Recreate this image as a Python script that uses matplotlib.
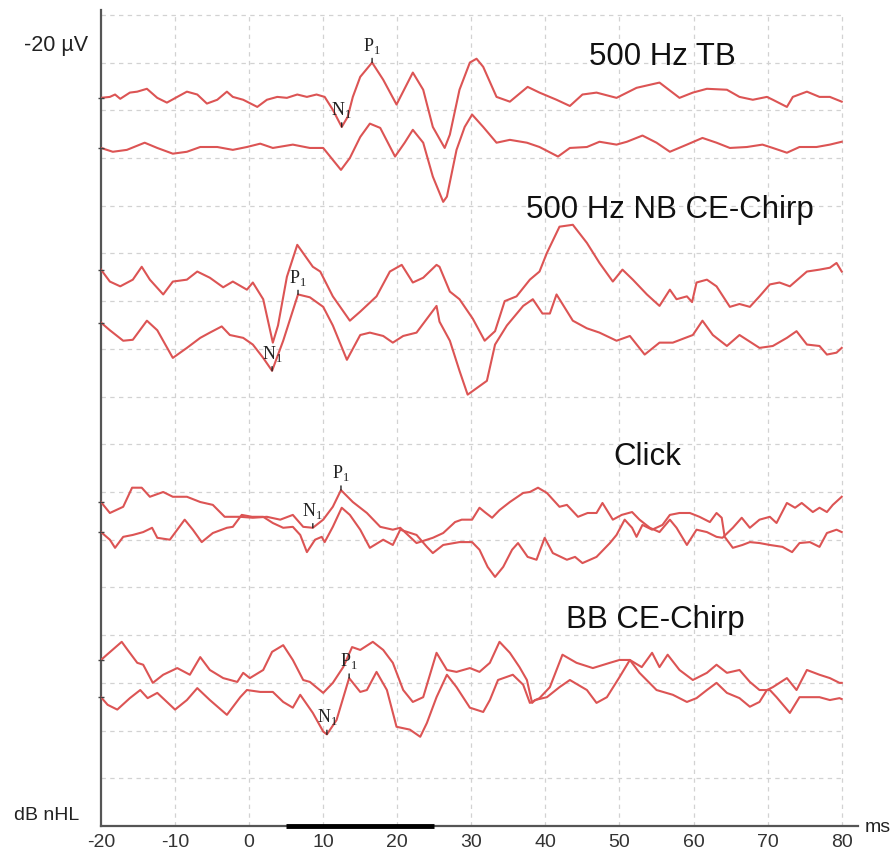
import matplotlib
matplotlib.use("Agg")
import matplotlib.pyplot as plt

# ---------------- data (x in ms, y in grid divisions) ----------------
tb_upper_t = [-20.0, -18.8, -18.1, -17.4, -16.1, -15.1, -13.8, -12.4, -11.1, -9.7, -8.4, -7.0, -5.7, -4.3, -3.0,
              -2.2, -0.8, 1.1, 2.4, 3.8, 5.1, 6.5, 7.8, 9.1, 10.2, 11.3, 12.5, 13.3, 14.0, 15.0, 16.6, 18.1,
              19.9, 22.1, 23.5, 24.8, 26.4, 27.1, 28.4, 29.8, 30.7, 31.6, 33.4, 35.2, 37.6, 39.2, 41.5, 43.3,
              45.0, 46.9, 49.6, 52.3, 55.4, 58.1, 59.9, 61.8, 64.5, 66.2, 68.0, 69.9, 70.7, 72.6, 73.4, 75.3,
              77.0, 78.4, 80.0]
tb_upper_v = [15.26, 15.28, 15.33, 15.24, 15.37, 15.39, 15.45, 15.26, 15.16, 15.28, 15.39, 15.33, 15.14, 15.22,
              15.39, 15.28, 15.22, 15.07, 15.22, 15.28, 15.26, 15.33, 15.28, 15.33, 15.28, 15.01, 14.65, 14.86,
              15.28, 15.70, 16.00, 15.64, 15.12, 15.79, 15.43, 14.65, 14.21, 14.49, 15.43, 16.00, 16.08, 15.91,
              15.28, 15.18, 15.49, 15.37, 15.22, 15.09, 15.33, 15.37, 15.26, 15.47, 15.58, 15.26, 15.37, 15.45,
              15.43, 15.28, 15.22, 15.28, 15.22, 15.07, 15.28, 15.39, 15.28, 15.28, 15.18]

tb_lower_t = [-20.0, -18.4, -16.5, -14.1, -12.4, -10.3, -8.4, -6.6, -4.3, -2.2, -0.3, 1.5, 3.2, 5.9, 8.2, 10.0,
              11.3, 12.4, 13.6, 15.0, 16.3, 17.7, 19.7, 21.0, 22.1, 23.5, 24.8, 26.2, 26.7, 28.0, 29.1, 30.1,
              31.6, 33.4, 35.2, 37.5, 39.2, 41.7, 43.3, 45.6, 47.3, 49.6, 51.0, 53.1, 55.0, 56.8, 59.1, 61.2,
              63.1, 64.9, 67.2, 69.3, 70.7, 72.6, 74.3, 76.6, 78.4, 80.0]
tb_lower_v = [14.21, 14.13, 14.17, 14.32, 14.21, 14.09, 14.13, 14.23, 14.23, 14.17, 14.23, 14.30, 14.21, 14.28,
              14.21, 14.21, 13.96, 13.75, 14.00, 14.44, 14.72, 14.63, 14.03, 14.32, 14.59, 14.32, 13.61, 13.08,
              13.19, 14.17, 14.65, 14.91, 14.65, 14.32, 14.38, 14.32, 14.23, 14.03, 14.21, 14.23, 14.34, 14.28,
              14.34, 14.47, 14.32, 14.13, 14.28, 14.42, 14.32, 14.21, 14.23, 14.28, 14.21, 14.11, 14.23, 14.23,
              14.28, 14.34]

nb_upper_t = [-20.0, -18.8, -17.4, -15.7, -14.5, -13.4, -11.6, -10.3, -8.4, -7.0, -5.3, -3.5, -2.2, -0.3, 0.5,
              1.9, 3.2, 3.9, 5.1, 6.5, 8.6, 9.6, 11.3, 13.6, 15.0, 17.2, 19.0, 20.6, 22.1, 23.5, 25.3, 25.7,
              27.1, 28.4, 30.2, 31.8, 33.2, 34.5, 36.1, 37.9, 39.2, 40.2, 41.9, 43.7, 45.6, 47.3, 49.1, 50.4,
              51.8, 53.7, 55.4, 56.8, 57.7, 59.1, 59.8, 60.4, 61.8, 63.1, 64.9, 66.2, 67.6, 68.9, 70.3, 71.6,
              73.0, 75.3, 77.0, 78.4, 79.3, 80.0]
nb_upper_v = [11.66, 11.41, 11.31, 11.45, 11.72, 11.45, 11.14, 11.41, 11.45, 11.62, 11.49, 11.29, 11.41, 11.24,
              11.39, 11.04, 10.13, 10.49, 11.51, 12.18, 11.72, 11.62, 11.10, 10.59, 10.78, 11.10, 11.62, 11.76,
              11.39, 11.49, 11.76, 11.72, 11.20, 11.04, 10.63, 10.17, 10.37, 11.00, 11.10, 11.45, 11.62, 12.01,
              12.56, 12.60, 12.22, 11.80, 11.41, 11.66, 11.45, 11.14, 10.90, 11.24, 11.04, 11.10, 10.98, 11.39,
              11.45, 11.31, 10.88, 10.94, 10.88, 11.10, 11.35, 11.39, 11.31, 11.62, 11.66, 11.70, 11.80, 11.62]

nb_lower_t = [-20.0, -18.8, -17.0, -15.7, -13.8, -12.4, -10.3, -8.4, -6.6, -5.3, -3.7, -2.6, -0.8, 0.5, 1.9,
              3.1, 4.6, 6.6, 8.2, 10.0, 11.3, 13.2, 15.0, 16.3, 18.1, 19.4, 20.8, 22.6, 25.3, 25.7, 27.1, 28.4,
              29.5, 32.1, 33.2, 34.8, 37.0, 38.3, 39.6, 40.6, 41.5, 43.7, 45.6, 47.3, 49.6, 51.4, 53.4, 55.4,
              57.2, 59.9, 61.2, 62.6, 64.5, 66.2, 68.9, 70.7, 72.6, 73.9, 75.3, 77.0, 78.0, 79.3, 80.0]
nb_lower_v = [10.55, 10.39, 10.17, 10.19, 10.59, 10.39, 9.81, 10.02, 10.23, 10.34, 10.47, 10.29, 10.23, 10.09,
              9.81, 9.54, 10.17, 11.14, 11.08, 10.88, 10.49, 9.77, 10.29, 10.34, 10.27, 10.13, 10.27, 10.34,
              10.90, 10.57, 10.17, 9.54, 9.04, 9.33, 10.09, 10.49, 10.90, 11.04, 10.74, 10.74, 11.14, 10.59,
              10.43, 10.34, 10.17, 10.27, 9.88, 10.13, 10.13, 10.29, 10.59, 10.29, 10.06, 10.29, 10.02, 10.06,
              10.23, 10.37, 10.09, 10.06, 9.88, 9.92, 10.02]

click_a_t = [-20.0, -18.8, -17.0, -15.8, -14.5, -13.4, -11.6, -10.3, -8.4, -6.6, -4.9, -3.3, -1.2, 0.5, 2.4,
             4.2, 5.9, 7.3, 8.6, 10.0, 11.3, 12.4, 14.0, 15.9, 17.7, 19.4, 20.4, 22.6, 24.8, 26.2, 27.8, 28.7,
             30.1, 31.1, 31.8, 32.8, 33.8, 35.2, 37.0, 37.9, 39.0, 40.2, 41.9, 42.9, 44.4, 45.7, 46.9, 47.7,
             49.1, 50.3, 51.7, 52.7, 54.1, 55.4, 56.8, 57.7, 59.1, 60.4, 61.8, 63.1, 63.9, 65.3, 66.5, 67.6,
             68.9, 70.3, 71.2, 72.6, 73.7, 74.6, 76.1, 77.0, 78.0, 78.8, 80.0]
click_a_v = [6.79, 6.56, 6.69, 7.09, 7.09, 6.90, 7.00, 6.90, 6.90, 6.79, 6.73, 6.48, 6.48, 6.46, 6.48, 6.42,
             6.52, 6.27, 6.25, 6.42, 6.69, 7.04, 6.79, 6.56, 6.27, 6.21, 6.25, 5.93, 6.04, 6.14, 6.37, 6.42,
             6.42, 6.67, 6.58, 6.46, 6.62, 6.79, 6.98, 7.00, 7.09, 6.98, 6.69, 6.73, 6.48, 6.56, 6.56, 6.77,
             6.42, 6.52, 6.58, 6.42, 6.25, 6.16, 6.42, 6.25, 5.89, 6.21, 6.16, 6.06, 6.04, 6.25, 6.46, 6.25,
             6.42, 6.48, 6.35, 6.77, 6.67, 6.77, 6.58, 6.67, 6.58, 6.73, 6.90]

click_b_t = [-20.0, -18.8, -18.1, -17.0, -15.7, -14.3, -13.1, -12.4, -10.7, -9.7, -8.7, -7.6, -6.4, -4.9, -3.0,
             -2.2, -1.0, 0.4, 1.9, 3.2, 4.6, 5.9, 6.9, 7.8, 8.9, 9.8, 10.2, 11.3, 12.5, 13.6, 15.0, 16.3, 18.1,
             19.4, 20.4, 22.6, 24.0, 24.8, 26.2, 28.4, 30.1, 31.1, 32.2, 33.2, 34.3, 35.5, 36.3, 37.6, 38.8,
             39.9, 41.0, 42.9, 44.0, 45.0, 46.9, 48.7, 49.6, 50.7, 51.7, 52.3, 53.1, 54.4, 55.8, 56.8, 58.1,
             59.5, 60.8, 62.2, 63.1, 63.8, 64.2, 65.3, 66.6, 67.6, 68.9, 70.3, 72.0, 73.3, 74.3, 75.7, 77.0,
             78.0, 79.3, 80.0]
click_b_v = [6.16, 6.00, 5.83, 6.06, 6.10, 6.16, 6.25, 6.04, 6.00, 6.21, 6.42, 6.21, 5.95, 6.14, 6.25, 6.27,
             6.52, 6.48, 6.48, 6.35, 6.25, 6.27, 6.10, 5.74, 6.00, 6.06, 5.95, 6.27, 6.67, 6.52, 6.21, 5.83,
             6.00, 5.89, 6.21, 6.10, 5.85, 5.72, 5.89, 5.95, 5.95, 5.79, 5.43, 5.22, 5.43, 5.79, 5.93, 5.64,
             5.58, 6.04, 5.72, 5.58, 5.64, 5.51, 5.64, 5.93, 6.10, 6.42, 6.25, 6.06, 6.31, 6.21, 6.31, 6.52,
             6.56, 6.56, 6.48, 6.37, 6.56, 6.46, 6.06, 5.83, 5.89, 5.95, 5.93, 5.89, 5.85, 5.74, 5.93, 5.95,
             5.85, 6.14, 6.21, 6.16]

bb_upper_t = [-20.0, -19.2, -17.2, -16.4, -15.1, -14.3, -13.0, -11.6, -9.7, -8.0, -6.6, -5.3, -3.5, -1.6, -0.8,
              0.1, 1.9, 3.1, 4.6, 5.9, 7.3, 8.2, 10.0, 11.3, 12.7, 13.9, 15.0, 16.7, 18.1, 19.4, 20.8, 22.1,
              23.5, 25.3, 26.7, 28.0, 29.8, 31.1, 32.5, 33.8, 35.2, 36.5, 37.5, 38.2, 38.6, 40.2, 41.9, 43.3,
              45.6, 46.9, 48.3, 50.0, 51.4, 53.0, 54.4, 55.4, 56.5, 58.1, 59.9, 61.8, 63.1, 64.5, 66.2, 67.6,
              68.9, 70.3, 71.2, 73.0, 74.3, 77.0, 78.4, 79.7, 80.0]
bb_upper_v = [3.48, 3.59, 3.86, 3.69, 3.42, 3.38, 3.00, 3.17, 3.31, 3.17, 3.54, 3.27, 3.10, 3.02, 3.21, 3.10,
              3.27, 3.65, 3.79, 3.48, 3.06, 3.02, 2.79, 3.00, 3.33, 3.75, 3.69, 3.86, 3.69, 3.42, 2.85, 2.60,
              2.70, 3.63, 3.27, 3.23, 3.31, 3.23, 3.42, 3.86, 3.63, 3.33, 3.06, 2.58, 2.64, 2.70, 2.91, 3.06,
              2.85, 2.58, 2.70, 3.12, 3.48, 3.33, 3.63, 3.33, 3.59, 3.27, 3.06, 3.21, 3.38, 3.21, 3.27, 3.02,
              2.85, 2.85, 2.70, 2.37, 2.70, 2.70, 2.64, 2.68, 2.66]

bb_lower_t = [-20.0, -19.1, -17.8, -16.1, -14.7, -13.7, -12.4, -10.0, -8.4, -7.0, -5.3, -3.0, -1.2, -0.3, 1.5,
              3.2, 4.6, 5.9, 6.9, 8.6, 10.0, 10.5, 11.8, 13.5, 15.0, 15.9, 17.2, 18.6, 19.9, 21.7, 23.1, 24.0,
              25.3, 26.7, 28.0, 29.8, 31.6, 32.5, 33.6, 35.6, 37.0, 37.9, 39.2, 40.6, 42.3, 44.2, 46.4, 48.7,
              50.0, 51.4, 52.7, 55.0, 57.2, 59.1, 60.4, 61.8, 63.1, 64.5, 66.2, 67.6, 68.9, 69.9, 70.7, 72.6,
              73.9, 75.3, 77.0, 78.4, 79.7, 80.0]
bb_lower_v = [2.70, 2.54, 2.44, 2.68, 2.85, 2.68, 2.79, 2.44, 2.64, 2.89, 2.64, 2.33, 2.70, 2.85, 2.81, 2.81,
              2.60, 2.48, 2.75, 2.37, 1.98, 1.92, 2.22, 3.10, 2.81, 2.85, 3.23, 2.85, 2.08, 2.02, 1.87, 2.16,
              2.70, 3.17, 2.91, 2.48, 2.39, 2.64, 3.06, 3.17, 2.96, 2.58, 2.68, 2.91, 3.59, 3.42, 3.31, 3.42,
              3.48, 3.48, 3.21, 2.85, 2.75, 2.60, 2.68, 2.85, 3.00, 2.79, 2.68, 2.50, 2.60, 2.85, 2.91, 3.10,
              2.85, 3.27, 3.17, 3.10, 3.00, 3.00]

traces = [(tb_upper_t, tb_upper_v), (tb_lower_t, tb_lower_v),
          (nb_upper_t, nb_upper_v), (nb_lower_t, nb_lower_v),
          (click_a_t, click_a_v), (click_b_t, click_b_v),
          (bb_upper_t, bb_upper_v), (bb_lower_t, bb_lower_v)]

# stimulus titles: text, x (ms), y (div)
title_text = ["500 Hz TB", "500 Hz NB CE-Chirp", "Click", "BB CE-Chirp"]
title_x = [55.8, 56.8, 53.8, 54.9]
title_y = [16.12, 12.91, 7.74, 4.32]

# wave markers: name, latency (ms), amplitude (div)
mark_name = ["P", "N", "P", "N", "P", "N", "P", "N"]
mark_t = [16.6, 12.5, 6.6, 3.1, 12.4, 8.6, 13.5, 10.5]
mark_v = [16.00, 14.65, 11.14, 9.54, 7.04, 6.25, 3.10, 1.92]

x_ticks = [-20, -10, 0, 10, 20, 30, 40, 50, 60, 70, 80]
grid_x = [-10, 0, 10, 20, 30, 40, 50, 60, 70, 80]
grid_y = list(range(1, 18))
window_ms = [5, 25]

# ---------------- drawing ----------------
RED = "#dc5454"
fig = plt.figure(figsize=(8.92, 8.52), dpi=100)
ax = fig.add_axes([0.1132, 0.0305, 0.8487, 0.9577])
ax.set_xlim(-20, 82.2)
ax.set_ylim(0, 17.1)

ax.hlines(grid_y, -20, 80, colors="#d2d2d2", linestyles=(0, (3.5, 3.5)), linewidth=0.9, zorder=1)
ax.vlines(grid_x, 0, 17, colors="#d2d2d2", linestyles=(0, (3.5, 3.5)), linewidth=0.9, zorder=1)

for t, v in traces:
    ax.plot(t, v, color=RED, linewidth=1.5, zorder=3, solid_joinstyle="round")
    ax.plot([t[0]], [v[0]], marker="_", markersize=4, color="#444444", zorder=4, clip_on=False)

for txt, tx, ty in zip(title_text, title_x, title_y):
    ax.text(tx, ty, txt, ha="center", va="center", fontsize=22.5,
            family="Liberation Sans", color="#111111", zorder=5)

for nm, t, v in zip(mark_name, mark_t, mark_v):
    ax.annotate(nm + r"$_\mathregular{1}$", xy=(t, v), xytext=(0, 5), textcoords="offset points",
                ha="center", va="bottom", fontsize=13, family="Liberation Serif", color="#222222",
                arrowprops=dict(arrowstyle="-", color="#222222", lw=1.0, shrinkA=0, shrinkB=0,
                                relpos=(0.5, 0.0)), zorder=6)

ax.plot(window_ms, [0, 0], color="black", linewidth=3.5, solid_capstyle="butt", zorder=6, clip_on=False)

for side in ["top", "right"]:
    ax.spines[side].set_visible(False)
for side in ["left", "bottom"]:
    ax.spines[side].set_color("#555555")
    ax.spines[side].set_linewidth(1.6)

ax.set_xticks(x_ticks)
ax.set_xticklabels([str(v) for v in x_ticks], family="Liberation Sans", fontsize=14, color="#333333")
ax.set_yticks([])
ax.tick_params(axis="x", length=0, pad=6)

fig.text(56 / 892, 1 - 46 / 852, "-20 µV", ha="center", va="center", fontsize=15.5,
         family="Liberation Sans", color="#222222")
fig.text(47 / 892, 1 - 815 / 852, "dB nHL", ha="center", va="center", fontsize=14,
         family="Liberation Sans", color="#222222")
fig.text(878 / 892, 1 - 827 / 852, "ms", ha="center", va="center", fontsize=14,
         family="Liberation Sans", color="#222222")

fig.savefig("out.png", dpi=100, facecolor="white")
